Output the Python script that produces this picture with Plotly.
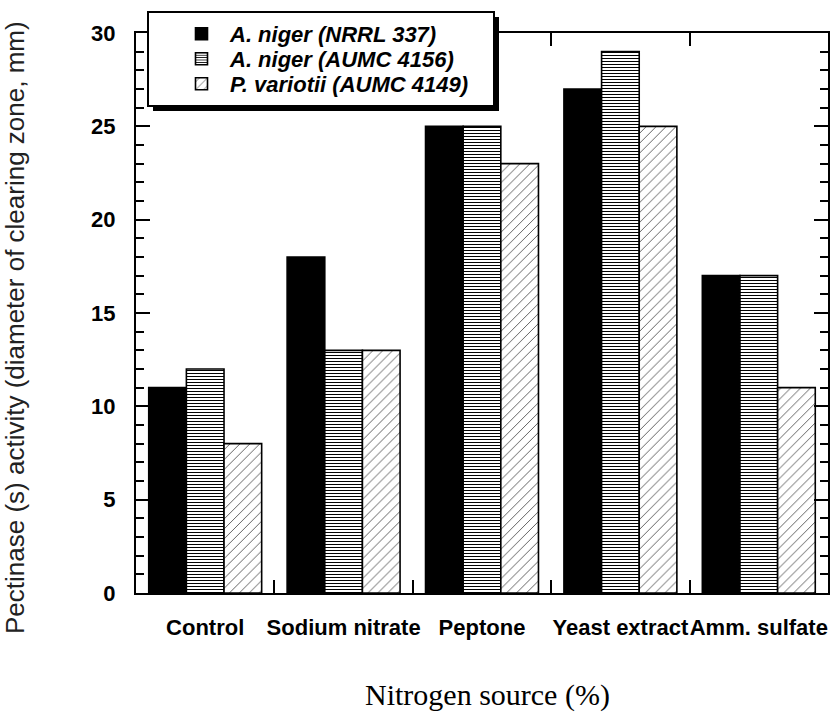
import plotly.graph_objects as go

# Nitrogen sources tested and pectinase activity (clearing-zone diameter, mm)
sources = ["Control", "Sodium nitrate", "Peptone", "Yeast extract", "Amm. sulfate"]
niger_nrrl337 = [11, 18, 25, 27, 17]
niger_aumc4156 = [12, 13, 25, 29, 17]
variotii_aumc4149 = [8, 13, 23, 25, 11]

strain_names = [
    "A. niger (NRRL 337)",
    "A. niger (AUMC 4156)",
    "P. variotii (AUMC 4149)",
]
y_ticks = [0, 5, 10, 15, 20, 25, 30]

W, H = 832, 714
L, R, T, B = 136, 4, 33, 121
PW, PH = W - L - R, H - T - B


def px_x(p):
    return (p - L) / PW


def px_y(p):
    return (H - B - p) / PH


outline = dict(color="black", width=1.6)

fig = go.Figure()
fig.add_trace(go.Bar(
    x=sources, y=niger_nrrl337, name=strain_names[0], legend="legend",
    marker=dict(color="black", line=outline),
))
fig.add_trace(go.Bar(
    x=sources, y=niger_aumc4156, name=strain_names[1], legend="legend2",
    marker=dict(color="white", line=outline,
                pattern=dict(shape="-", fgcolor="black", bgcolor="white",
                             size=3, solidity=0.33)),
))
fig.add_trace(go.Bar(
    x=sources, y=variotii_aumc4149, name=strain_names[2], legend="legend3",
    marker=dict(color="white", line=outline,
                pattern=dict(shape="/", fgcolor="#222", bgcolor="white",
                             size=7, solidity=0.1)),
))

axis_font = dict(family="Liberation Sans, Arial, sans-serif", size=22,
                 color="black", weight="bold")
legend_font = dict(family="Liberation Sans, Arial, sans-serif", size=22,
                   color="black", weight="bold", style="italic")


def legend_row(y_px):
    return dict(
        x=px_x(173), y=px_y(y_px), xanchor="left", yanchor="middle",
        bgcolor="rgba(0,0,0,0)", borderwidth=0, font=legend_font,
        itemwidth=47,
    )


fig.update_layout(
    template="none",
    width=W, height=H,
    margin=dict(l=L, r=R, t=T, b=B, pad=0),
    paper_bgcolor="white", plot_bgcolor="rgba(0,0,0,0)",
    barmode="group", bargap=0.184, bargroupgap=0,
    showlegend=True,
    legend=legend_row(34),
    legend2=legend_row(59),
    legend3=legend_row(84),
    xaxis=dict(
        type="category", range=[-0.5, 4.5], tickson="boundaries",
        ticks="inside", ticklen=13, tickwidth=2, tickcolor="black",
        showline=True, linecolor="black", linewidth=2, mirror="allticks",
        tickangle=0, tickfont=axis_font, ticklabelstandoff=14,
        showgrid=False, zeroline=False, layer="above traces",
    ),
    yaxis=dict(
        range=[0, 30], tickvals=y_ticks, ticktext=[str(v) for v in y_ticks],
        ticks="inside", ticklen=14, tickwidth=2, tickcolor="black",
        minor=dict(dtick=1, ticks="inside", ticklen=8, tickwidth=1.6,
                   tickcolor="black", showgrid=False),
        showline=True, linecolor="black", linewidth=2, mirror="allticks",
        tickfont=axis_font, ticklabelstandoff=14,
        showgrid=False, zeroline=False, layer="above traces",
    ),
)

# legend frame with its drop shadow
fig.add_shape(type="rect", xref="paper", yref="paper",
              x0=px_x(153), x1=px_x(499), y0=px_y(17), y1=px_y(111),
              fillcolor="black", line=dict(width=0), layer="above")
fig.add_shape(type="rect", xref="paper", yref="paper",
              x0=px_x(148), x1=px_x(494), y0=px_y(12), y1=px_y(106),
              fillcolor="white", line=dict(color="black", width=2),
              layer="above")

fig.add_annotation(
    text="Pectinase (s) activity (diameter of clearing zone, mm)",
    xref="paper", yref="paper", x=px_x(15), y=px_y(328),
    xanchor="center", yanchor="middle", textangle=-90, showarrow=False,
    font=dict(family="Liberation Sans, Arial, sans-serif", size=26, color="#222"),
)
fig.add_annotation(
    text="Nitrogen source (%)",
    xref="paper", yref="paper", x=px_x(487), y=px_y(695),
    xanchor="center", yanchor="middle", showarrow=False,
    font=dict(family="Liberation Serif, Times New Roman, serif", size=30,
              color="black"),
)

fig.write_html("out.html")
